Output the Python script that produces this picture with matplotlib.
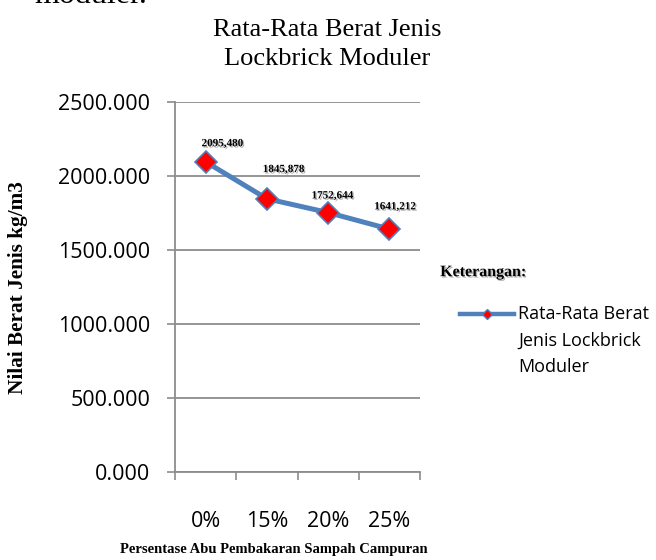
import matplotlib.pyplot as plt
import matplotlib.patheffects as pe
from matplotlib.lines import Line2D

# data
categories = ['0%', '15%', '20%', '25%']
berat_jenis = [2095.480, 1845.878, 1752.644, 1641.212]
label_text = ['2095,480', '1845,878', '1752,644', '1641,212']
y_ticks = [0, 500, 1000, 1500, 2000, 2500]
series_name = 'Rata-Rata Berat\nJenis Lockbrick\nModuler'

# where excel put each data label, offset from the point (points)
label_dx = [12, 12, 3, 4]
label_dy = [13, 21, 12, 16]

serif = 'Liberation Serif'
sans = 'Open Sans'
grid_col = '#8c8c8c'
line_col = '#4f81bd'

fig = plt.figure(figsize=(6.56, 5.6), dpi=100)
ax = fig.add_axes([0.2668, 0.157, 0.3735, 0.661])

x = list(range(len(categories)))
ax.plot(x, berat_jenis, color=line_col, lw=3.6, marker='D', ms=11,
        mfc='red', mec=line_col, mew=1.2, zorder=3)

shadow = [pe.withSimplePatchShadow(offset=(1, -1), shadow_rgbFace='gray', alpha=0.6)]
for xi, yi, t, dx, dy in zip(x, berat_jenis, label_text, label_dx, label_dy):
    ax.annotate(t, (xi, yi), xytext=(dx, dy), textcoords='offset points',
                ha='center', va='center', fontsize=8, fontweight='bold',
                family=serif, path_effects=shadow)

ax.set_xlim(-0.5, len(categories) - 0.5)
ax.set_ylim(0, 2500)
ax.set_yticks(y_ticks)
ax.set_yticklabels(['%.3f' % v for v in y_ticks], family=sans, fontsize=15.5)
ax.set_xticks([i - 0.5 for i in range(len(categories) + 1)])
ax.set_xticklabels([])
ax.set_xticks(x, minor=True)
ax.set_xticklabels(categories, minor=True, family=sans, fontsize=15.5)
ax.tick_params(axis='x', which='minor', length=0, pad=28)
ax.tick_params(axis='x', which='major', length=6, color=grid_col, width=1.2)
ax.tick_params(axis='y', length=6, color=grid_col, width=1.2, pad=12)

ax.grid(axis='y', color=grid_col, lw=1.3)
ax.set_axisbelow(True)
for s in ['top', 'right']:
    ax.spines[s].set_visible(False)
for s in ['left', 'bottom']:
    ax.spines[s].set_color(grid_col)
    ax.spines[s].set_linewidth(1.3)

fig.text(0.499, 0.921, 'Rata-Rata Berat Jenis\nLockbrick Moduler', ha='center', va='center',
         family=serif, fontsize=19, linespacing=1.42)
fig.text(0.052, 1 - 3 / 560, 'moduler.', ha='left', va='baseline', family=serif, fontsize=23)

fig.text(0.028, 0.486, 'Nilai Berat Jenis kg/m3', rotation=90, ha='center', va='center',
         family=serif, fontsize=15.3, fontweight='bold')
fig.text(0.418, 0.018, 'Persentase Abu Pembakaran Sampah Campuran', ha='center', va='center',
         family=serif, fontsize=10.5, fontweight='bold')
fig.text(0.671, 0.514, 'Keterangan:', ha='left', va='center', family=serif,
         fontsize=11.5, fontweight='bold', path_effects=shadow)

# legend entry, handle aligned with the first text line like excel does
ly = 1 - 314 / 560
fig.add_artist(Line2D([460 / 656, 514 / 656], [ly, ly], transform=fig.transFigure,
                      color=line_col, lw=3.2))
fig.add_artist(Line2D([487 / 656], [ly], transform=fig.transFigure, marker='D', ms=5.5,
                      mfc='red', mec=line_col, mew=1.0, ls='none'))
fig.text(518 / 656, 1 - 305 / 560, series_name, ha='left', va='top', family=sans,
         fontsize=13, linespacing=1.62)

fig.savefig('out.png', dpi=100)
